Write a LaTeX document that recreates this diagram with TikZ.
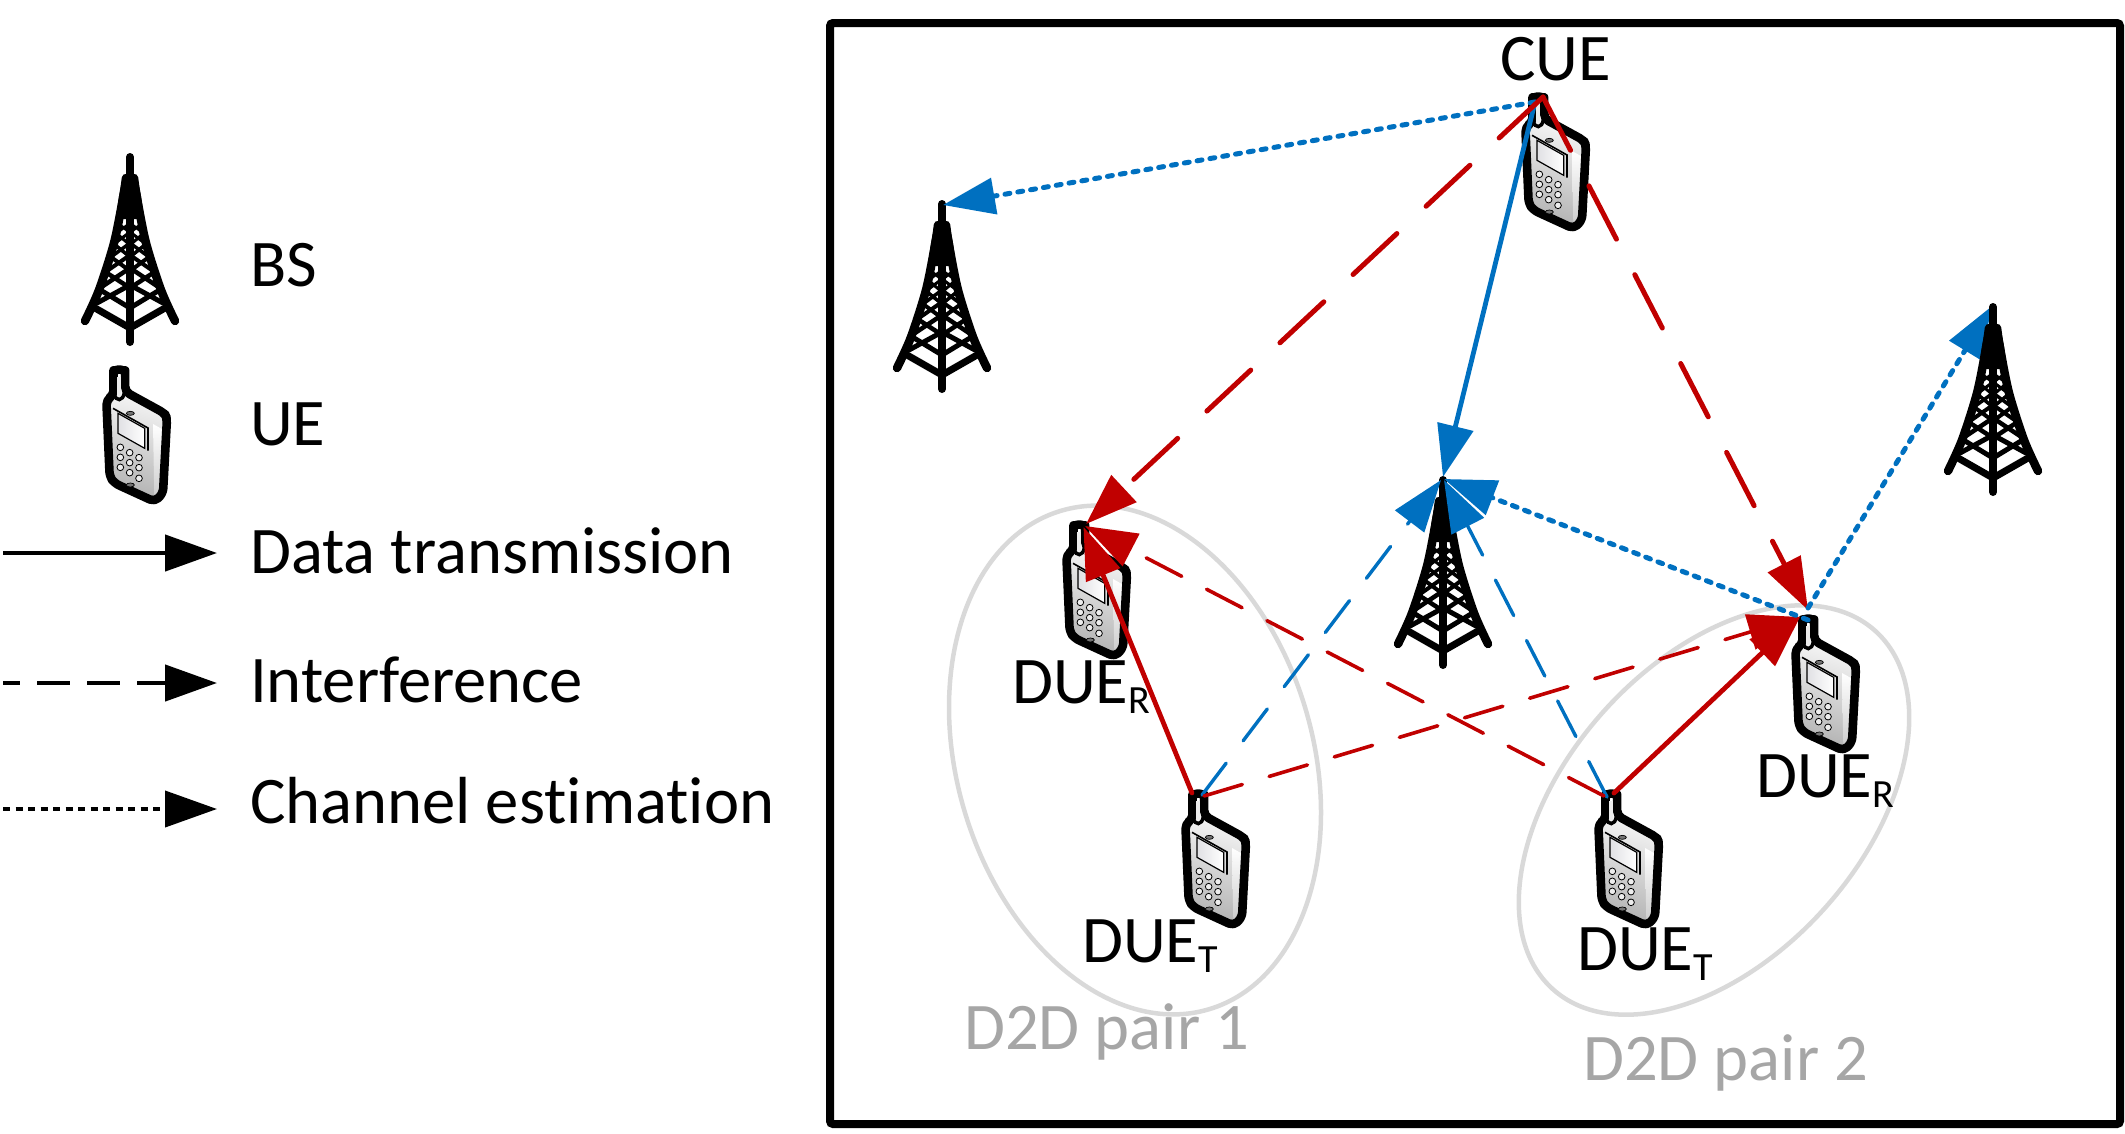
\documentclass[tikz,border=0pt]{standalone}
\usepackage{fontspec}
\setmainfont[Ligatures=CommonOff]{Carlito}
\usetikzlibrary{arrows.meta}
\definecolor{lred}{HTML}{C00000}
\definecolor{lblue}{HTML}{0070C0}
\definecolor{pairgray}{HTML}{D9D9D9}
\definecolor{pairtext}{HTML}{A6A6A6}
\newcommand{\subtxt}[1]{\raisebox{-10pt}{\fontsize{40}{40}\selectfont #1}}
\tikzset{
  x=1pt,y=-1pt,
  bigtip/.style={-{Triangle[length=52pt,width=36pt]}},
  lbl/.style={inner sep=0pt,anchor=base west,font=\fontsize{66.6}{72}\selectfont},
  pairlbl/.style={lbl,text=pairtext},
  conn/.style={bigtip,line cap=round},
  solidred/.style={conn,draw=lred,line width=4.8pt},
  solidblue/.style={conn,draw=lblue,line width=4.8pt},
  longred/.style={conn,draw=lred,line width=5pt,dash pattern=on 60pt off 40pt},
  thinred/.style={conn,draw=lred,line width=3.6pt,dash pattern=on 40pt off 28pt},
  thinblue/.style={conn,draw=lblue,line width=3.4pt,dash pattern=on 40pt off 28pt},
  dotblue/.style={conn,draw=lblue,line width=5pt,dash pattern=on 5pt off 8pt},
  pairring/.style={draw=pairgray,line width=4.5pt},
  tower/.pic={
    \begin{scope}[line cap=round,line join=round,draw=black,fill=black]
      \fill (-7,23) -- (-11,43) -- (-14,66) -- (14,66) -- (11,43) -- (7,23) -- cycle;
      \draw[line width=8pt] (0,4) -- (0,189);
      \foreach \s in {-1,1}{
        \draw[line width=8.5pt] plot[smooth] coordinates {(\s*4,25) (\s*7,45) (\s*16,90) (\s*31,137) (\s*45,168)};
        \draw[line width=7pt] (\s*35,155) -- (0,175);
        \draw[line width=5pt] (\s*28,138) -- (0,155);
        \draw[line width=5pt] (\s*33,150) -- (0,132);
        \draw[line width=4.5pt] (\s*23,120) -- (0,135);
        \draw[line width=4.5pt] (\s*27,133) -- (0,115);
        \draw[line width=4pt] (\s*19,104) -- (0,118);
        \draw[line width=4pt] (\s*23,118) -- (0,102);
        \draw[line width=3.5pt] (\s*16,91) -- (0,104);
        \draw[line width=3.5pt] (\s*19,104) -- (0,90);
        \draw[line width=3pt] (\s*14,80) -- (0,92);
        \draw[line width=3pt] (\s*16,91) -- (0,79);
        \draw[line width=2.6pt] (\s*12,70) -- (0,80);
        \draw[line width=2.6pt] (\s*13,80) -- (0,70);
      }
    \end{scope}
  },
  phone/.pic={
    \begin{scope}[x=0.3333pt,y=-0.3333pt,shift={(-118,-48)}]
      \shade[top color=white,bottom color=black!30,shading angle=-15,rounded corners=5pt]
        (101.5,135) -- (101.5,76) -- (136.5,76) -- (136.5,125) -- (255,190) -- (262,205) -- (250,430) -- (225,455) -- (105,400) -- (90,380) -- (80,150) -- cycle;
      \path[top color=white,bottom color=black!20]
        (220,222) -- (252,240) -- (245,430) -- (224,445) -- cycle;
      \draw[line width=8.6pt,line join=round,rounded corners=5pt]
        (101.5,135) -- (101.5,76) arc[start angle=180,end angle=360,radius=17.5] -- (136.5,125) -- (255,190) -- (262,205) -- (250,430) -- (225,455) -- (105,400) -- (90,380) -- (80,150) -- cycle;
      \fill[black!8] (113,82) rectangle (125,138);
      \draw[line width=3.5pt] (104,132) .. controls (108,155) and (130,155) .. (134,128);
      \draw[line width=1.6pt] (100,175) -- (205,234) -- (205,302);
      \shade[left color=blue!12!black!12,right color=white,draw=black,line width=1.2pt]
        (115,190) -- (195,235) -- (195,295) -- (115,250) -- cycle;
      \foreach \a/\b in {122/292,150/308,178/323,122/322,150/338,178/353,122/352,150/368,178/385}
        \draw[line width=0.8pt,fill=black!7] (\a,\b) circle[radius=10];
      \draw[line width=0.7pt,fill=black!55] (152,190) ellipse[x radius=12,y radius=6];
      \draw[line width=0.7pt,fill=black!55] (152,405) ellipse[x radius=12,y radius=6];
    \end{scope}
  }
}
\begin{document}
\begin{tikzpicture}
\useasboundingbox (0,0) rectangle (2125,1133);
\node[draw=black,line width=8pt,rounded corners=3pt,minimum width=1290pt,minimum height=1101pt,inner sep=0pt] (frame) at (1475,573.5) {};

% legend
\pic (legtower) at (130,153) {tower};
\pic (legphone) at (119,366) {phone};
\node[lbl] (tbs) at (250,286) {BS};
\node[lbl] (tue) at (250,445) {UE};
\node[lbl] (tdata) at (250,573) {Data transmission};
\node[lbl] (tint) at (250,702) {Interference};
\node[lbl] (tchan) at (250,823) {Channel estimation};
\coordinate (s1) at (3,553); \coordinate (e1) at (217,553);
\coordinate (s2) at (3,683); \coordinate (e2) at (217,683);
\coordinate (s3) at (3,809); \coordinate (e3) at (217,809);
\draw[bigtip,line width=4.5pt] (s1) -- (e1);
\draw[bigtip,line width=4.5pt,dash pattern=on 33pt off 17pt,dash phase=16pt] (s2) -- (e2);
\draw[bigtip,line width=4pt,dash pattern=on 7pt off 5.5pt] (s3) -- (e3);

% rings
\draw[pairring,rotate around={16.5:(1135,760)}] (1135,760) ellipse[x radius=178,y radius=260];
\draw[pairring,rotate around={-42:(1714,810)}] (1714,810) ellipse[x radius=148,y radius=241];

% equipment
\pic (towerL) at (942,200) {tower};
\pic (towerC) at (1443,476) {tower};
\pic (phCUE) at (1538,93) {phone};
\pic (phR1) at (1079,521) {phone};
\pic (phR2) at (1808,615) {phone};
\pic (phT1) at (1198,790) {phone};
\pic (phT2) at (1611,790) {phone};

% labels
\node[lbl] (lcue) at (1500,80) {CUE};
\node[lbl] (lr1) at (1012,703) {DUE\subtxt{R}};
\node[lbl] (lr2) at (1756,797) {DUE\subtxt{R}};
\node[lbl] (lt1) at (1082,962) {DUE\subtxt{T}};
\node[lbl] (lt2) at (1577,970) {DUE\subtxt{T}};
\node[pairlbl] (p1) at (964,1049) {D2D pair 1};
\node[pairlbl] (p2) at (1583,1080) {D2D pair 2};

% connector ends
\coordinate (cueA) at (1543,97);
\coordinate (cueB) at (1535,102);
\coordinate (bsL) at (943,205);
\coordinate (bsC) at (1443,477);
\coordinate (bsC1) at (1441,480);
\coordinate (bsC2) at (1444,480);
\coordinate (bsC3) at (1444,479);
\coordinate (bsR) at (1992,306);
\coordinate (r1a) at (1086,524);
\coordinate (r1b) at (1085,526);
\coordinate (r1c) at (1083.5,527);
\coordinate (r2a) at (1808,610);
\coordinate (r2b) at (1800,617);
\coordinate (r2c) at (1808,608);
\coordinate (r2d) at (1808,620);
\coordinate (t1a) at (1192,793);
\coordinate (t1b) at (1202,795);
\coordinate (t1c) at (1204,796);
\coordinate (t2a) at (1614,793);
\coordinate (t2b) at (1604,796);
\coordinate (t2c) at (1607,797);

% connectors
\draw[dotblue] (cueB) -- (bsL);
\draw[solidblue] (cueB) -- (bsC);
\draw[longred] (cueA) -- (r1a);
\draw[longred] (cueA) -- (r2a);
\draw[thinblue] (t1b) -- (bsC1);
\draw[thinblue] (t2c) -- (bsC2);
\draw[thinred] (t1c) -- (r2b);
\draw[thinred] (t2b) -- (r1b);
\draw[solidred] (t1a) -- (r1c);
\draw[solidred] (t2a) -- (r2b);
\draw[dotblue] (r2c) -- (bsR);
\draw[dotblue] (r2d) -- (bsC3);
\pic (towerR) at (1993,303) {tower};
\end{tikzpicture}
\end{document}
